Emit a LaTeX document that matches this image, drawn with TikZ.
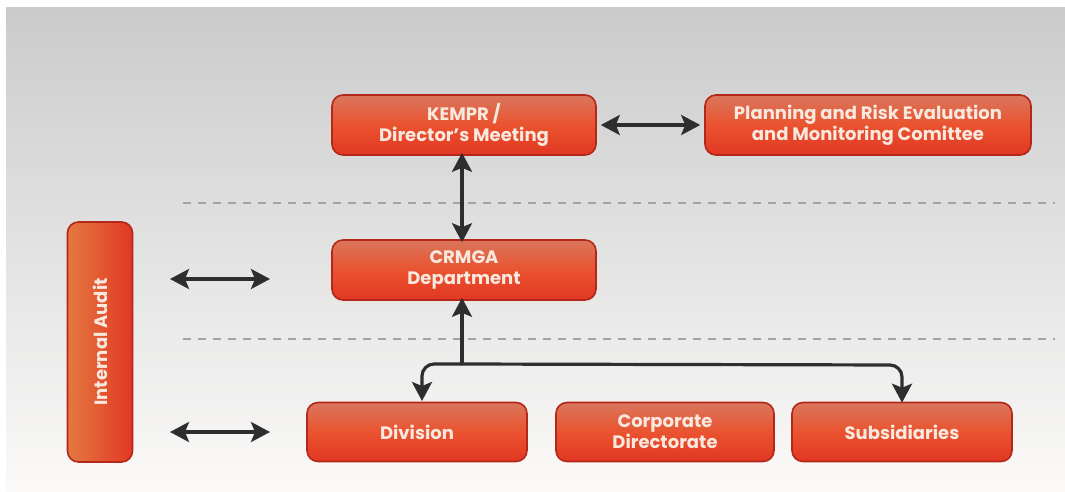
\documentclass[tikz,border=0pt]{standalone}
\usepackage{fontspec}
\setmainfont{Poppins}
\usepackage{graphicx}
\usetikzlibrary{arrows.meta,shapes.misc}

\definecolor{panelTop}{HTML}{CBCBCB}
\definecolor{panelBot}{HTML}{FBFAF9}
\definecolor{boxTop}{HTML}{D9765C}
\definecolor{boxMid}{HTML}{EA532F}
\definecolor{boxBot}{HTML}{E13723}
\definecolor{boxEdge}{HTML}{B3281B}
\definecolor{boxText}{HTML}{F8E8DE}
\definecolor{arrowInk}{HTML}{2E2E2E}
\definecolor{guide}{HTML}{A3A3A3}

\tikzset{
  redbox/.style={rounded corners=11pt, draw=boxEdge, line width=1.6pt,
    top color=boxTop, bottom color=boxBot, middle color=boxMid,
    text=boxText, font=\fontsize{18}{21}\selectfont\bfseries,
    align=center, inner sep=0pt},
  vbox/.style={rounded corners=11pt, draw=boxEdge, line width=1.6pt,
    left color=boxTop!70!orange, right color=boxBot,
    text=boxText, font=\fontsize{18}{21}\selectfont\bfseries,
    inner sep=0pt},
  link/.style={draw=arrowInk, line width=3.2pt},
  tip/.style={arrows={-Stealth[length=19pt,width=20pt,inset=4pt]}},
  both/.style={arrows={Stealth[length=19pt,width=20pt,inset=4pt]-Stealth[length=19pt,width=20pt,inset=4pt]}},
  guideline/.style={draw=guide, line width=1.4pt, dash pattern=on 8pt off 7pt},
}

\begin{document}
\begin{tikzpicture}[x=1pt,y=-1pt]
  % canvas and background panel
  \useasboundingbox (0,0) rectangle (1065,491);
  \fill[white] (0,0) rectangle (1065,491);
  \shade[top color=panelTop, bottom color=panelBot] (6,7) rectangle (1065,491);

  % level separators
  \draw[guideline] (183,203) -- (1055,203);
  \draw[guideline] (183,339) -- (1055,339);

  % boxes
  \node[redbox, minimum width=264pt, minimum height=60pt] (kempr) at (464,125)
    {KEMPR /\\Director's Meeting};
  \node[redbox, minimum width=326pt, minimum height=60pt] (prem) at (868,125)
    {Planning and Risk Evaluation\\and Monitoring Comittee};
  \node[redbox, minimum width=264pt, minimum height=60pt] (crmga) at (464,270)
    {CRMGA\\Department};
  \node[vbox, minimum width=65pt, minimum height=240pt] (audit) at (100,342)
    {\rotatebox{90}{Internal Audit}};
  \node[redbox, minimum width=220pt, minimum height=59pt] (division) at (417,432)
    {Division};
  \node[redbox, minimum width=218pt, minimum height=59pt] (corp) at (665,432)
    {Corporate\\Directorate};
  \node[redbox, minimum width=220pt, minimum height=59pt] (subs) at (902,432)
    {Subsidiaries};

  % free ends of the audit links
  \coordinate (auditA1) at (170,279);
  \coordinate (auditA2) at (270,279);
  \coordinate (auditB1) at (170,432);
  \coordinate (auditB2) at (270,432);

  % branch point below CRMGA
  \coordinate (branch) at (462,364);
  \coordinate (divTop) at (422,401);

  % connectors
  \draw[link, both] ([xshift=4pt]kempr.east) -- ([xshift=-4pt]prem.west);
  \draw[link, both] ([xshift=-2pt,yshift=3pt]kempr.south) -- ([xshift=-2pt,yshift=-3pt]crmga.north);
  \draw[link, both] (auditA1) -- (auditA2);
  \draw[link, both] (auditB1) -- (auditB2);

  \draw[link, tip] (branch) -- ([xshift=-2pt,yshift=3pt]crmga.south);
  \draw[link, tip, rounded corners=12pt] (branch) -- (divTop |- branch) -- (divTop);
  \draw[link, tip, rounded corners=12pt] ([xshift=-1.5pt]branch) -- ([yshift=-1pt]subs.north |- branch) -- ([yshift=-1pt]subs.north);
\end{tikzpicture}
\end{document}
